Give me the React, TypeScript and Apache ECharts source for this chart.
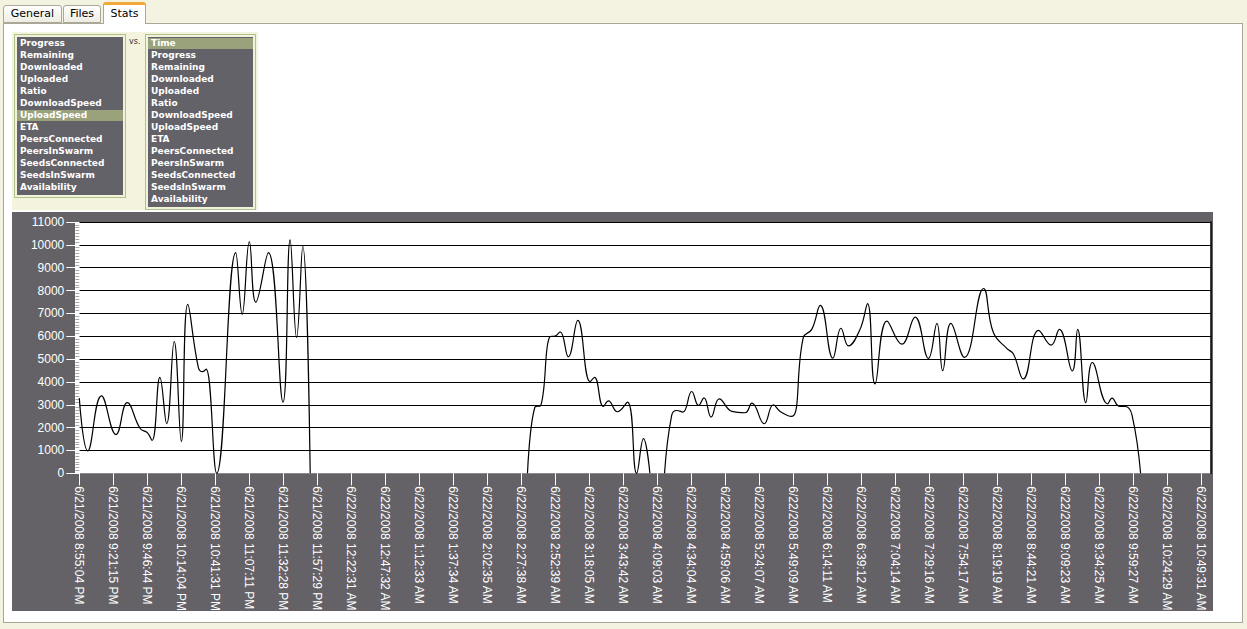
import React, { useEffect, useRef } from "react";
import * as echarts from "echarts";

const tabNames = ["General", "Files", "Stats"];
const selectedTab = "Stats";

const yFieldItems = [
  "Progress", "Remaining", "Downloaded", "Uploaded", "Ratio", "DownloadSpeed", "UploadSpeed",
  "ETA", "PeersConnected", "PeersInSwarm", "SeedsConnected", "SeedsInSwarm", "Availability",
];
const xFieldItems = [
  "Time", "Progress", "Remaining", "Downloaded", "Uploaded", "Ratio", "DownloadSpeed", "UploadSpeed",
  "ETA", "PeersConnected", "PeersInSwarm", "SeedsConnected", "SeedsInSwarm", "Availability",
];
const selectedY = "UploadSpeed";
const selectedX = "Time";

const timeLabels = [
  "6/21/2008 8:55:04 PM", "6/21/2008 9:21:15 PM", "6/21/2008 9:46:44 PM", "6/21/2008 10:14:04 PM",
  "6/21/2008 10:41:31 PM", "6/21/2008 11:07:11 PM", "6/21/2008 11:32:28 PM", "6/21/2008 11:57:29 PM",
  "6/22/2008 12:22:31 AM", "6/22/2008 12:47:32 AM", "6/22/2008 1:12:33 AM", "6/22/2008 1:37:34 AM",
  "6/22/2008 2:02:35 AM", "6/22/2008 2:27:38 AM", "6/22/2008 2:52:39 AM", "6/22/2008 3:18:05 AM",
  "6/22/2008 3:43:42 AM", "6/22/2008 4:09:03 AM", "6/22/2008 4:34:04 AM", "6/22/2008 4:59:06 AM",
  "6/22/2008 5:24:07 AM", "6/22/2008 5:49:09 AM", "6/22/2008 6:14:11 AM", "6/22/2008 6:39:12 AM",
  "6/22/2008 7:04:14 AM", "6/22/2008 7:29:16 AM", "6/22/2008 7:54:17 AM", "6/22/2008 8:19:19 AM",
  "6/22/2008 8:44:21 AM", "6/22/2008 9:09:23 AM", "6/22/2008 9:34:25 AM", "6/22/2008 9:59:27 AM",
  "6/22/2008 10:24:29 AM", "6/22/2008 10:49:31 AM",
];

const yTicks = { min: 0, max: 11000, step: 1000 };
const xMax = 33.28;

// sample position (in label-tick units) and upload speed
const samplePos = [
  0.0, 0.25, 0.65, 1.08, 1.41, 1.79, 2.0, 2.14, 2.37, 2.57, 2.79, 3.0, 3.19, 3.5, 3.63, 3.73, 4.04,
  4.6, 4.79, 5.0, 5.19, 5.56, 5.99, 6.2, 6.39, 6.57, 6.79,
  10.0,
  13.18, 13.4, 13.57, 13.84, 13.99, 14.14, 14.38, 14.66, 15.02, 15.15, 15.41, 15.56, 15.82, 16.12,
  16.39, 16.59, 16.78,
  17.0,
  17.21, 17.42, 17.57, 17.75, 18.01, 18.21, 18.37, 18.58, 18.82, 19.19, 19.58, 19.78, 20.14, 20.41,
  20.61, 20.95, 21.29, 21.54, 21.79, 22.16, 22.4, 22.62, 22.96, 23.18, 23.4, 23.75, 24.19, 24.58,
  24.97, 25.22, 25.39, 25.63, 26.03, 26.59, 26.88, 27.28, 27.47, 27.76, 28.21, 28.58, 28.82, 29.2,
  29.36, 29.6, 29.79, 30.24, 30.37, 30.57, 30.77, 30.96, 31.21,
];
const uploadSpeed = [
  3290, 985, 3390, 1695, 3090, 1960, 1780, 1435, 4200, 2170, 5770, 1390, 7390, 4640, 4450, 4560, 0,
  9660, 6960, 10140, 7490, 9660, 3115, 10215, 5940, 9950, 0,
  null,
  0, 2900, 2970, 5985, 6010, 6190, 5100, 6690, 4015, 4200, 2925, 3170, 2695, 3115,
  0, 1520, 0,
  null,
  0, 2540, 2750, 2680, 3580, 2970, 3300, 2460, 3260, 2710, 2650, 3070, 2170, 3000,
  2710, 2490, 5940, 6300, 7350, 5040, 6350, 5580, 6300, 7430, 3910, 6665, 5650, 6840,
  5030, 6560, 4490, 6560, 5070, 8090, 6160, 5460, 5220, 4130, 6260, 5610, 6300, 4480,
  6300, 3090, 4850, 3040, 3290, 2940, 2925, 2540, 0,
];

const LIST_FONT = "'DejaVu Sans', Verdana, sans-serif";

function FieldList(props: {
  items: string[];
  selected: string;
  left: number;
  top: number;
  width: number;
}) {
  const { items, selected, left, top, width } = props;
  const rowH = 12;
  const innerH = items.length * rowH + 2;
  return (
    <div
      style={{
        position: "absolute",
        left,
        top,
        width: width + 6,
        height: innerH + 6,
        boxSizing: "border-box",
        border: "1px solid #AFC28E",
        background: "#F2F2DA",
      }}
    >
      <div
        style={{
          position: "absolute",
          left: 2,
          top: 2,
          width,
          height: innerH,
          background: "#646269",
        }}
      >
        {items.map((it, i) => (
          <div
            key={it + i}
            style={{
              position: "absolute",
              left: 0,
              top: 1 + i * rowH,
              width,
              height: rowH - 1,
              lineHeight: rowH - 1 + "px",
              background: it === selected ? "#99A27B" : "transparent",
              color: "#FFFFFF",
              fontFamily: LIST_FONT,
              fontWeight: "bold",
              fontSize: 9,
              paddingLeft: 3,
              boxSizing: "border-box",
              whiteSpace: "nowrap",
            }}
          >
            {it}
          </div>
        ))}
      </div>
    </div>
  );
}

function Chart() {
  const ref = useRef<HTMLDivElement>(null);
  useEffect(() => {
    if (!ref.current) return;
    const chart = echarts.init(ref.current, undefined, { renderer: "svg" });
    const data = samplePos.map((x, i) => [x, uploadSpeed[i] === null ? "-" : uploadSpeed[i]]);
    const nLines = (yTicks.max - yTicks.min) / yTicks.step + 1;
    const splitColors = ["rgba(0,0,0,0)"].concat(new Array(nLines - 1).fill("#000000"));
    chart.setOption({
      animation: false,
      backgroundColor: "#646266",
      grid: {
        left: 67.3,
        top: 10,
        right: 2,
        bottom: 137.7,
        containLabel: false,
        outerBoundsMode: "none",
        show: true,
        backgroundColor: "#FFFFFF",
        borderWidth: 0,
      },
      graphic: [
        {
          type: "rect",
          left: 63,
          top: 10,
          z: -10,
          shape: { width: 5, height: 252 },
          style: { fill: "#FFFFFF" },
        },
      ],
      xAxis: {
        type: "value",
        min: 0,
        max: xMax,
        interval: 1,
        axisLine: { show: false },
        axisTick: { show: true, length: 12, lineStyle: { color: "#FFFFFF", width: 1 } },
        axisLabel: {
          rotate: -90,
          margin: 13,
          color: "#FFFFFF",
          fontFamily: "'Liberation Sans', Arial, sans-serif",
          fontSize: 12,
          showMaxLabel: false,
          hideOverlap: false,
          formatter: (v: number) => {
            const r = Math.round(v);
            if (Math.abs(v - r) > 1e-6) return "";
            return timeLabels[r] ?? "";
          },
        },
        splitLine: { show: false },
      },
      yAxis: [
        {
          type: "value",
          min: yTicks.min,
          max: yTicks.max,
          interval: yTicks.step,
          axisLine: { show: false },
          axisTick: { show: true, length: 13, lineStyle: { color: "#FFFFFF", width: 1 } },
          minorTick: { show: true, splitNumber: 8, length: 4, lineStyle: { color: "#A8A8A8", width: 1 } },
          axisLabel: {
            margin: 15,
            color: "#FFFFFF",
            fontFamily: "'Liberation Sans', Arial, sans-serif",
            fontSize: 12,
            formatter: (v: number) => String(v),
          },
          splitLine: { show: true, lineStyle: { color: splitColors, width: 1 } },
        },
        {
          type: "value",
          position: "right",
          min: yTicks.min,
          max: yTicks.max,
          interval: yTicks.step,
          axisLine: { show: true, lineStyle: { color: "#000000", width: 1.5 } },
          axisTick: { show: false },
          axisLabel: { show: false },
          splitLine: { show: false },
        },
      ],
      series: [
        {
          type: "line",
          data,
          smooth: 0.45,
          showSymbol: false,
          connectNulls: false,
          clip: true,
          lineStyle: { color: "#000000", width: 1.2 },
        },
      ],
    });
    return () => chart.dispose();
  }, []);
  return (
    <div
      ref={ref}
      style={{ position: "absolute", left: 12, top: 212, width: 1201, height: 399 }}
    />
  );
}

export default function App() {
  const tabGeom: Record<string, { left: number; width: number }> = {
    General: { left: 3, width: 59 },
    Files: { left: 63, width: 38 },
    Stats: { left: 103, width: 43 },
  };
  return (
    <div
      style={{
        position: "fixed",
        left: 0,
        top: 0,
        width: 1247,
        height: 629,
        background: "#F4F3E1",
        overflow: "hidden",
      }}
    >
      {/* main panel */}
      <div
        style={{
          position: "absolute",
          left: 3,
          top: 23,
          width: 1240,
          height: 600,
          boxSizing: "border-box",
          border: "1px solid #A9A796",
          background: "#FFFFFF",
        }}
      />
      {/* tabs */}
      {tabNames.map((t) => {
        const g = tabGeom[t];
        const sel = t === selectedTab;
        return (
          <div
            key={t}
            style={{
              position: "absolute",
              left: g.left,
              top: sel ? 2 : 5,
              width: g.width,
              height: sel ? 22 : 18,
              boxSizing: "border-box",
              border: "1px solid #A9A796",
              borderBottom: sel ? "none" : "1px solid #A9A796",
              borderTop: sel ? "3px solid #F2A93A" : "1px solid #A9A796",
              borderRadius: "3px 3px 0 0",
              background: sel ? "#FFFFFF" : "linear-gradient(#FFFFFF, #EEEDE3)",
              fontFamily: "'DejaVu Sans', Tahoma, sans-serif",
              fontSize: 11,
              color: "#000000",
              textAlign: "center",
              lineHeight: sel ? "17px" : "16px",
            }}
          >
            {t}
          </div>
        );
      })}
      {/* list area */}
      <div
        style={{
          position: "absolute",
          left: 12,
          top: 32,
          width: 246,
          height: 178,
          background: "#F4F4DE",
        }}
      />
      <FieldList items={yFieldItems} selected={selectedY} left={14} top={34} width={106} />
      <div
        style={{
          position: "absolute",
          left: 129,
          top: 37,
          fontFamily: "'DejaVu Sans', Tahoma, sans-serif",
          fontSize: 8,
          color: "#333333",
        }}
      >
        vs.
      </div>
      <FieldList items={xFieldItems} selected={selectedX} left={145} top={34} width={105} />
      <Chart />
    </div>
  );
}
